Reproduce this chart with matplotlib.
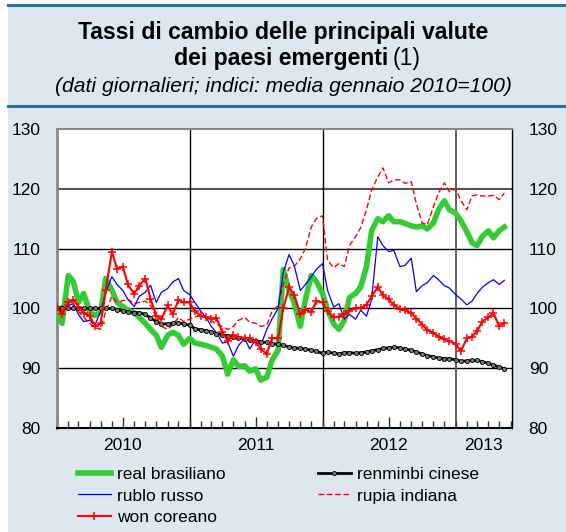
import numpy as np
import pandas as pd
import matplotlib
matplotlib.use("Agg")
import matplotlib.pyplot as plt
import matplotlib.dates as mdates
from matplotlib.patches import Rectangle
from matplotlib.lines import Line2D

plt.rcParams['font.family'] = ['Liberation Sans', 'DejaVu Sans']

# semi-monthly observations, Jan 2010 - mid May 2013 (index, Jan 2010 = 100)
dates = pd.date_range('2010-01-01', '2013-05-15', freq='SMS')

real_brasiliano = [
    99.5, 97.5, 105.5, 104.5, 101, 102.5, 99.5, 98.8, 99.4, 105, 103, 101,
    100.3, 99.7, 99.3, 98.5, 97.5, 96.5, 95.5, 93.5, 95.5, 96, 95.5, 94,
    95, 94.2, 94, 93.8, 93.5, 93.2, 92, 89, 91.4, 90.3, 90.4, 89.5,
    89.9, 88, 88.5, 91.3, 93, 106.5, 103, 101, 97, 101.5, 105.5, 104.5,
    102.5, 99.7, 97.4, 96.5, 98, 101.8, 102.5, 103.6, 107, 113, 115, 114.5,
    115.5, 114.5, 114.5, 114.2, 113.8, 113.6, 113.8, 113.3, 114.3, 116.5, 118, 116.5,
    115.9, 114.7, 112.8, 111, 110.5, 112, 113, 111.8, 113, 113.6]

rublo_russo = [
    100, 99.5, 100.5, 100.8, 99, 97.8, 98, 97.2, 99.5, 102.7, 105.3, 104,
    103, 101.5, 100.3, 102, 102.7, 103.9, 101, 102.7, 103.3, 104.4, 105, 103,
    102.3, 101, 99.5, 98.5, 97, 96, 94.2, 94.4, 92, 93.8, 95, 93.2,
    94.8, 93.8, 96.5, 98.2, 100, 106, 109, 107.2, 103, 104, 105.3, 106.5,
    107.5, 103, 100.2, 100.8, 98.2, 99, 98.2, 99.7, 98.7, 101.5, 112, 110.5,
    109.5, 109.7, 107, 107.2, 108.4, 102.8, 103.8, 104.3, 105.5, 104.8, 103.8, 103.4,
    102.3, 101.6, 100.6, 101.2, 102.5, 103.5, 104.3, 104.8, 104, 104.7]

won_coreano = [
    100.2, 99, 101, 101.4, 100.3, 99.2, 98.8, 97, 97.5, 103, 109.5, 106.6,
    107, 104, 102.4, 103.8, 105, 101.6, 98.8, 98.2, 100.5, 99, 101.4, 101,
    101, 99.5, 98.8, 98.5, 98.3, 98.4, 96, 94.6, 95.5, 95.2, 95.1, 95,
    94.4, 93.2, 92.4, 95, 95, 100, 103.5, 102.3, 99, 99.8, 99.4, 101.2,
    101, 99.5, 98.5, 98.6, 99.1, 99.6, 100, 100.1, 100.6, 102, 103.6, 102.2,
    101.5, 100.6, 99.9, 99.7, 99.2, 98.3, 97.3, 96.4, 95.9, 95.3, 94.9, 94.5,
    94.1, 92.8, 95, 95.3, 96.2, 97.8, 98.5, 99.2, 97, 97.6]

renminbi_cinese = [
    100, 100, 100, 100, 100, 100, 100, 100, 100, 100, 100, 99.8,
    99.6, 99.4, 99.3, 99.3, 99, 98.4, 97.8, 97.4, 97.4, 97.5, 97.6, 97.4,
    97.2, 96.6, 96.4, 96.3, 96.1, 95.8, 95.6, 95.4, 95.2, 95.1, 94.9, 94.7,
    94.6, 94.4, 94.3, 94.1, 94, 93.8, 93.6, 93.4, 93.3, 93.2, 93, 92.8,
    92.5, 92.7, 92.5, 92.4, 92.6, 92.6, 92.5, 92.6, 92.7, 92.9, 93.1, 93.3,
    93.4, 93.5, 93.4, 93.2, 93, 92.7, 92.4, 92.1, 91.9, 91.7, 91.6, 91.6,
    91.4, 91.2, 91.2, 91.3, 91.3, 91.1, 90.8, 90.5, 90.2, 89.9]

rupia_indiana = [
    100, 100.5, 100.8, 100.5, 99.5, 98.5, 97.5, 96.8, 96.5, 99.5, 102, 101,
    101.3, 101.5, 100.8, 101, 101.2, 100.5, 98.5, 97, 96.5, 97.2, 98.5, 97.8,
    98.2, 98.6, 98.8, 98.5, 98, 97.3, 97, 96.5, 97, 98, 98.5, 97.7,
    97.5, 97, 97.2, 99.5, 100.5, 104, 106.8, 107, 108.3, 110, 113.6, 115,
    115.5, 108, 106.8, 107.5, 107, 110.5, 112, 113.5, 116.5, 119.8, 122, 123.5,
    121, 121.5, 121.5, 120.9, 121.2, 117.5, 114.3, 114, 117, 119.3, 121, 119.5,
    120, 118.1, 116.5, 118.8, 119, 118.8, 118.8, 118.9, 118.2, 119.3]

years = ['2010', '2011', '2012', '2013']
year_label_pos = ['2010-07-01', '2011-07-01', '2012-07-01', '2013-03-18']

W, H = 566, 532
fig = plt.figure(figsize=(W / 100, H / 100), dpi=100)
fig.patch.set_facecolor('white')

bg = '#dce7f0'
fig.patches.append(Rectangle((8 / W, 0), 1, 1 - 5 / H, transform=fig.transFigure,
                             facecolor=bg, edgecolor='none', zorder=-10))
for yy in (5, 106):
    fig.add_artist(Line2D([8 / W, 1], [1 - yy / H, 1 - yy / H], color='#2f6f9a', lw=2.2,
                          transform=fig.transFigure))

# title block
fig.text(0.5, 1 - 33 / H, 'Tassi di cambio delle principali valute', ha='center', va='center',
         fontsize=16.6, fontweight='bold')
fig.text(388 / W, 1 - 58 / H, 'dei paesi emergenti', ha='right', va='center',
         fontsize=16.6, fontweight='bold')
fig.text(393 / W, 1 - 58 / H, '(1)', ha='left', va='center', fontsize=16.6)
fig.text(0.5, 1 - 86 / H, '(dati giornalieri; indici: media gennaio 2010=100)', ha='center',
         va='center', fontsize=15.2, style='italic')

ax = fig.add_axes([57 / W, 1 - 428 / H, (512 - 57) / W, (428 - 129) / H])
ax.set_facecolor('white')

ax.plot(dates, real_brasiliano, color='#33cc33', lw=4, zorder=3, label='real brasiliano')
ax.plot(dates, rupia_indiana, color='#ff0000', lw=1, ls=(0, (4, 2)), zorder=4, label='rupia indiana')
ax.plot(dates, rublo_russo, color='#0000ff', lw=0.9, zorder=5, label='rublo russo')
ax.plot(dates, renminbi_cinese, color='black', lw=2, marker='o', ms=3, mfc='#777777',
        mec='black', mew=0.6, zorder=6, label='renminbi cinese')
ax.plot(dates, won_coreano, color='#ff0000', lw=1.5, marker='+', ms=5.5, mew=1.1, zorder=7,
        label='won coreano')

ax.set_xlim(pd.Timestamp('2010-01-01'), pd.Timestamp('2013-06-05'))
ax.set_ylim(80, 130)
ax.set_yticks([80, 90, 100, 110, 120, 130])
for v in (90, 100, 110):
    ax.axhline(v, color='black', lw=1, zorder=1)
ax.axhline(120, color='#555555', lw=1.5, zorder=1)
for d in ('2011-01-01', '2012-01-01'):
    ax.axvline(pd.Timestamp(d), color='black', lw=1, zorder=1)
ax.axvline(pd.Timestamp('2013-01-01'), color='#555555', lw=1.3, zorder=1)

ax.tick_params(axis='y', length=0, labelsize=12.5, pad=12, labelleft=True, labelright=True)
ax.xaxis.set_major_locator(mdates.MonthLocator(bymonth=7))
ax.xaxis.set_minor_locator(mdates.MonthLocator())
ax.xaxis.set_major_formatter(plt.NullFormatter())
ax.tick_params(axis='x', which='major', direction='in', length=8, width=1, color='#333333')
ax.tick_params(axis='x', which='minor', direction='in', length=5, width=1, color='#333333')
for lab, pos in zip(years, year_label_pos):
    ax.text(pd.Timestamp(pos), -0.06, lab, transform=ax.get_xaxis_transform(),
            ha='center', va='center', fontsize=12.5)

ax.spines['left'].set_color('#888888')
ax.spines['left'].set_linewidth(2)
ax.spines['top'].set_color('#888888')
ax.spines['top'].set_linewidth(1.5)
ax.spines['right'].set_color('black')
ax.spines['right'].set_linewidth(1)
ax.spines['bottom'].set_color('black')
ax.spines['bottom'].set_linewidth(1.5)

h = {l.get_label(): l for l in ax.get_lines() if not l.get_label().startswith('_')}
order = ['real brasiliano', 'rublo russo', 'won coreano', 'renminbi cinese', 'rupia indiana']
leg = fig.legend([h[k] for k in order], order, ncol=2, loc='upper left',
                 bbox_to_anchor=(78 / W, 1 - 467 / H), frameon=False, fontsize=12.5,
                 handlelength=1.9, handletextpad=0.35, columnspacing=5.3,
                 labelspacing=0.36, borderaxespad=0, borderpad=0)

fig.savefig('out.png', dpi=100, facecolor=fig.get_facecolor())
